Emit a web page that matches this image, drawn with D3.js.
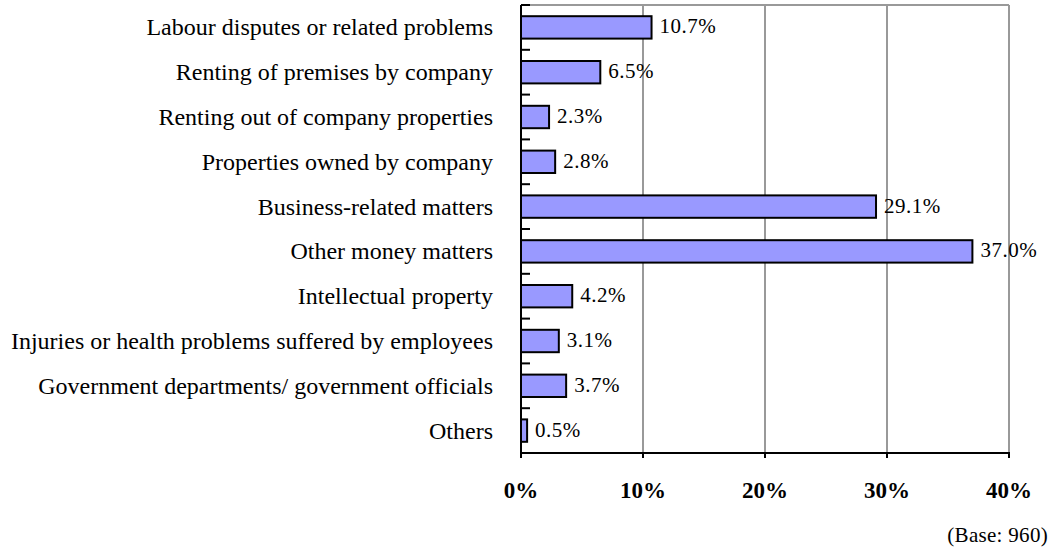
<!DOCTYPE html>
<html><head><meta charset="utf-8">
<script src="https://cdn.jsdelivr.net/npm/d3@7"></script>
<style>body{margin:0;background:#fff}svg{display:block}</style>
</head><body>
<script>
const categories = [
  "Labour disputes or related problems",
  "Renting of premises by company",
  "Renting out of company properties",
  "Properties owned by company",
  "Business-related matters",
  "Other money matters",
  "Intellectual property",
  "Injuries or health problems suffered by employees",
  "Government departments/ government officials",
  "Others"
];
const values = [10.7, 6.5, 2.3, 2.8, 29.1, 37.0, 4.2, 3.1, 3.7, 0.5];
const xTicks = [0, 10, 20, 30, 40];
const baseNote = "(Base: 960)";

const W = 1060, H = 554;
const m = {left: 521, top: 5, right: 1009, bottom: 453};
const svg = d3.select("body").append("svg").attr("width", W).attr("height", H);
const font = "'Liberation Serif','Times New Roman',serif";

const x = d3.scaleLinear().domain([0, 40]).range([m.left, m.right]);
const y = d3.scaleBand().domain(categories).range([m.top, m.bottom]).paddingInner(0.5).paddingOuter(0.25);
const yb = d3.scaleBand().domain(categories).range([m.top, m.bottom]);

// gridlines
svg.append("g").selectAll("line").data(xTicks.slice(1)).join("line")
  .attr("x1", d => x(d)).attr("x2", d => x(d)).attr("y1", m.top).attr("y2", m.bottom)
  .attr("stroke", "#999").attr("stroke-width", 2);
svg.append("line").attr("x1", m.left).attr("x2", m.right).attr("y1", m.top).attr("y2", m.top)
  .attr("stroke", "#999").attr("stroke-width", 2);

// bars
svg.append("g").selectAll("rect").data(values).join("rect")
  .attr("x", x(0)).attr("y", (d, i) => y(categories[i]))
  .attr("width", d => x(d) - x(0)).attr("height", y.bandwidth())
  .attr("fill", "#9999FF").attr("stroke", "#000").attr("stroke-width", 2);

// value labels
svg.append("g").selectAll("text").data(values).join("text")
  .attr("x", d => x(d) + 8).attr("y", (d, i) => y(categories[i]) + y.bandwidth() / 2 + 6)
  .attr("font-family", font).attr("font-size", 21).attr("letter-spacing", 0.5)
  .text(d => d.toFixed(1) + "%");

// left axis
svg.append("line").attr("x1", m.left).attr("x2", m.left).attr("y1", m.top).attr("y2", m.bottom)
  .attr("stroke", "#000").attr("stroke-width", 2);
svg.append("g").selectAll("line").data(categories).join("line")
  .attr("x1", m.left).attr("x2", m.left + 9)
  .attr("y1", d => yb(d)).attr("y2", d => yb(d))
  .attr("stroke", "#000").attr("stroke-width", 2);
svg.append("g").selectAll("text").data(categories).join("text")
  .attr("x", 493).attr("y", d => yb(d) + yb.bandwidth() / 2 + 8)
  .attr("text-anchor", "end")
  .attr("font-family", font).attr("font-size", 24).text(d => d);

// bottom axis
svg.append("line").attr("x1", m.left - 1).attr("x2", m.right + 1).attr("y1", m.bottom).attr("y2", m.bottom)
  .attr("stroke", "#000").attr("stroke-width", 2);
svg.append("g").selectAll("line").data(xTicks).join("line")
  .attr("x1", d => x(d)).attr("x2", d => x(d)).attr("y1", m.bottom).attr("y2", m.bottom + 5)
  .attr("stroke", "#000").attr("stroke-width", 2);
svg.append("g").selectAll("text").data(xTicks).join("text")
  .attr("x", d => x(d)).attr("y", 498).attr("text-anchor", "middle")
  .attr("font-family", font).attr("font-size", 23).attr("font-weight", "bold")
  .text(d => d + "%");

svg.append("text").attr("x", 1048).attr("y", 542).attr("text-anchor", "end")
  .attr("font-family", font).attr("font-size", 21).attr("letter-spacing", 0.3).text(baseNote);
</script>
</body></html>
